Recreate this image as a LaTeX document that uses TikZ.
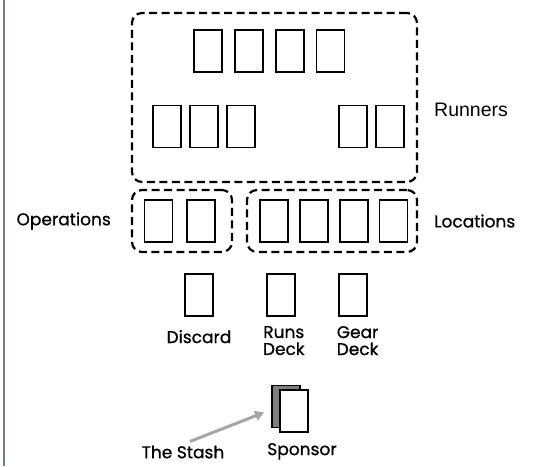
\documentclass[tikz,border=0pt]{standalone}
\usepackage{fontspec}
\setmainfont{Poppins}[UprightFeatures={FakeBold=0.8}]
\newfontfamily\arialfont{Liberation Sans}
\usepackage{tikz}
\usetikzlibrary{arrows.meta, positioning}
\definecolor{cardgray}{RGB}{128, 128, 128}
\definecolor{stashgray}{RGB}{165, 165, 165}
\definecolor{pageline}{RGB}{110, 125, 150}
\tikzset{
  card/.style={rectangle, draw=black, line width=1.8pt, fill=white,
    minimum width=28pt, minimum height=42pt, inner sep=0pt},
  group/.style={rectangle, draw=black, line width=2.2pt, rounded corners=10pt,
    dash pattern=on 8pt off 4.5pt, inner sep=0pt},
  label/.style={font=\fontsize{17}{17}\selectfont, align=center, inner sep=0pt},
  stasharrow/.style={-{Triangle[length=9pt, width=10pt]}, line width=3pt, color=stashgray},
}

\begin{document}
\begin{tikzpicture}[x=1pt, y=-1pt]
  \useasboundingbox (0,0) rectangle (535,466);
  \draw[pageline, line width=1.2pt] (4,0) -- (4,466);

  % -- Runners --
  \node[group, minimum width=285pt, minimum height=169pt] (runbox) at (274.5,97.5) {};
  \node[card] at (208,51) (t1) {};
  \node[card, right=11pt of t1] (t2) {};
  \node[card, right=11pt of t2] (t3) {};
  \node[card, right=11pt of t3] (t4) {};
  \node[card] at (167,126.5) (m1) {};
  \node[card, right=7pt of m1] (m2) {};
  \node[card, right=7pt of m2] (m3) {};
  \node[card] at (353,126.5) (m4) {};
  \node[card, right=7pt of m4] (m5) {};
  \node[label, anchor=west, font=\arialfont\fontsize{19.5}{19.5}\selectfont] at (434,110) (runners) {Runners};

  % -- Operations / Locations --
  \node[group, minimum width=100pt, minimum height=62pt] (opbox) at (182,221) {};
  \node[group, minimum width=170pt, minimum height=62pt] (locbox) at (332,221) {};
  \node[card] at (158.5,221) (o1) {};
  \node[card, right=13pt of o1] (o2) {};
  \node[card] at (274,221) (l1) {};
  \node[card, right=10pt of l1] (l2) {};
  \node[card, right=10pt of l2] (l3) {};
  \node[card, right=10pt of l3] (l4) {};
  \node[label, anchor=east] at (111,221) (ops) {Operations};
  \node[label, anchor=west] at (434,221) (locs) {Locations};

  % -- Decks --
  \node[card] at (199,295) (discard) {};
  \node[card, right=52pt of discard] (runs) {};
  \node[card, right=42pt of runs] (gear) {};
  \node[label, below=13pt of discard] (discardlbl) {Discard};
  \node[label, below=9pt of runs, xshift=3pt] (runslbl) {Runs\\Deck};
  \node[label, below=9pt of gear, xshift=5pt] (gearlbl) {Gear\\Deck};

  % -- Sponsor --
  \node[card, fill=cardgray] at (286,406.5) (spback) {};
  \node[card] at (294,411) (spfront) {};
  \node[label, below=10pt of spfront, xshift=8pt] (sponsor) {Sponsor};
  \node[label] at (183,452) (stash) {The Stash};

  \draw[stasharrow] ([xshift=7pt, yshift=4pt]stash.north) -- ([xshift=-7pt, yshift=-6pt]spback.west);
\end{tikzpicture}
\end{document}
